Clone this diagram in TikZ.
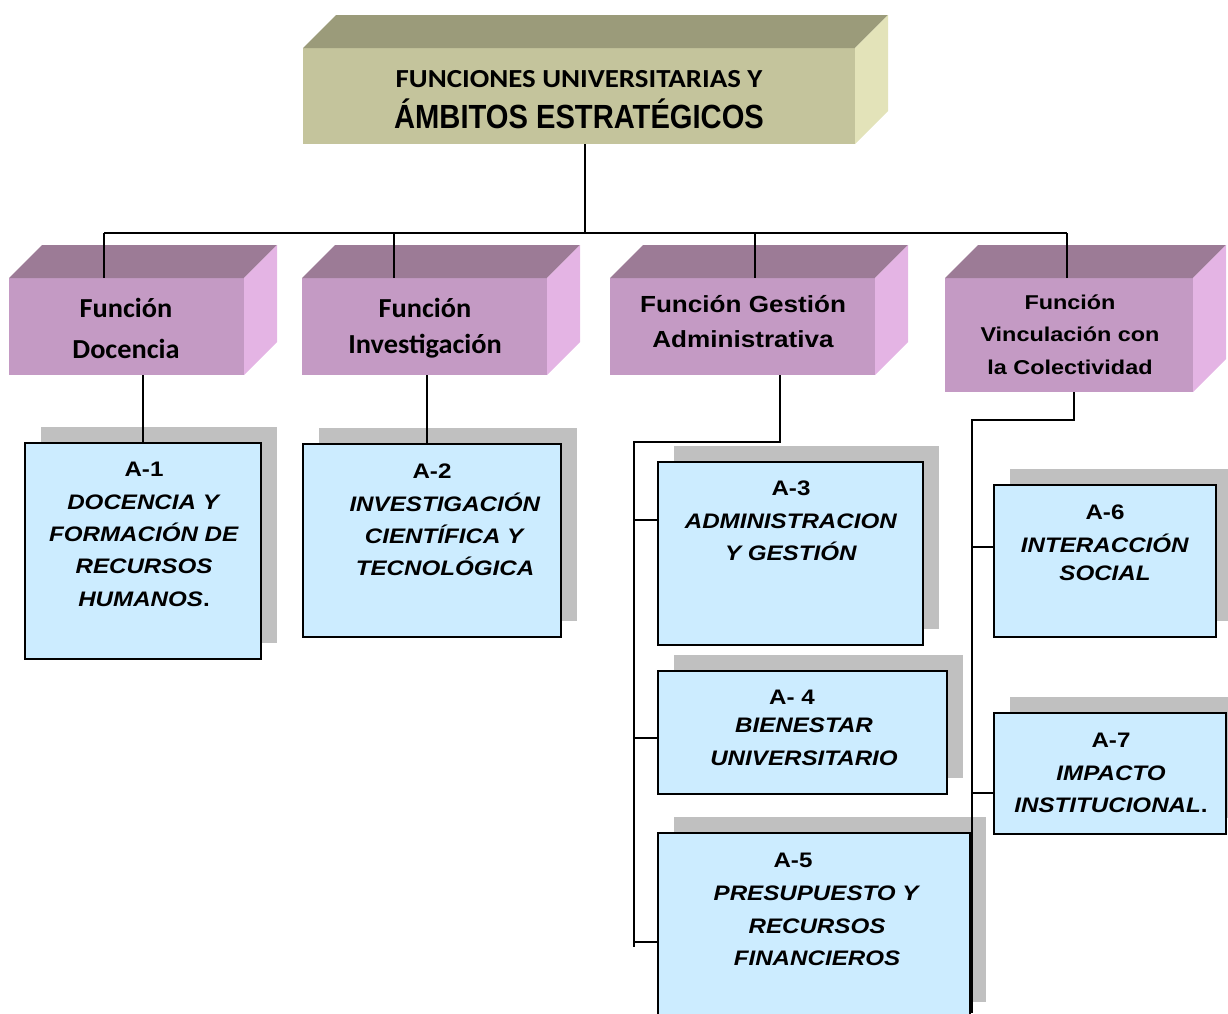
\documentclass[tikz,border=0pt]{standalone}
\usepackage{fontspec}
\setmainfont{Liberation Sans}
\newfontfamily\arialx[FakeStretch=1.15]{Liberation Sans}
\newfontfamily\arialg[FakeStretch=1.12]{Liberation Sans}
\newfontfamily\arialv[FakeStretch=1.17]{Liberation Sans}
\newfontfamily\arialn[FakeStretch=0.87]{Liberation Sans}
\newfontfamily\calib[FakeStretch=1.03]{Carlito}
\newfontfamily\calibx[FakeStretch=1.11]{Carlito}
\usetikzlibrary{shadows}

\definecolor{topfront}{RGB}{196,196,156}
\definecolor{toptop}{RGB}{155,155,122}
\definecolor{topright}{RGB}{227,227,185}
\definecolor{fnfront}{RGB}{196,154,196}
\definecolor{fntop}{RGB}{156,123,150}
\definecolor{fnright}{RGB}{228,180,228}
\definecolor{aboxc}{RGB}{204,236,255}
\definecolor{ashadow}{RGB}{192,192,192}

\newcommand\boxfaces[4]{%
  \fill[#2] (#1.north west) -- ([shift={(#4,-#4)}]#1.north west) -- ([shift={(#4,-#4)}]#1.north east) -- (#1.north east) -- cycle;
  \fill[#3] (#1.north east) -- ([shift={(#4,-#4)}]#1.north east) -- ([shift={(#4,-#4)}]#1.south east) -- (#1.south east) -- cycle;}

\begin{document}
\begin{tikzpicture}[x=1pt,y=-1pt,
  face/.style={anchor=north west, inner sep=0pt, outer sep=0pt},
  fnbox/.style={face, fill=fnfront},
  abox/.style={face, fill=aboxc, draw=black, line width=1.8pt,
    drop shadow={shadow xshift=16pt, shadow yshift=16pt, fill=ashadow, opacity=1}},
  conn/.style={draw=black, line width=1.5pt, line join=miter},
  ftext/.style={anchor=north, inner sep=0pt, align=center},
  atext/.style={anchor=north, inner sep=0pt, align=center,
    font=\arialx\bfseries\fontsize{21}{32.4}\selectfont}]
\useasboundingbox (0,0) rectangle (1228,1013);

% top box
\node[face, fill=topfront, minimum width=552pt, minimum height=96pt] (top) at (303,48) {};
\boxfaces{top}{toptop}{topright}{33}
\node[anchor=base, inner sep=0pt, font=\calibx\bfseries\fontsize{26}{30}\selectfont] (tt1) at (579,87) {FUNCIONES UNIVERSITARIAS Y};
\node[anchor=base, inner sep=0pt, font=\arialn\bfseries\fontsize{33.5}{38}\selectfont] (tt2) at (579,128) {ÁMBITOS ESTRATÉGICOS};

% function boxes
\node[fnbox, minimum width=235pt, minimum height=97pt] (f1) at (9,278) {};
\node[fnbox, minimum width=245pt, minimum height=97pt] (f2) at (302,278) {};
\node[fnbox, minimum width=265pt, minimum height=97pt] (f3) at (610,278) {};
\node[fnbox, minimum width=248pt, minimum height=114pt] (f4) at (945,278) {};
\boxfaces{f1}{fntop}{fnright}{33}
\boxfaces{f2}{fntop}{fnright}{33}
\boxfaces{f3}{fntop}{fnright}{33}
\boxfaces{f4}{fntop}{fnright}{33}

\node[ftext, font=\calib\bfseries\fontsize{27.5}{41}\selectfont] (ft1) at (126,293) {\rule{0pt}{24pt}Función\\Docencia};
\node[ftext, font=\calib\bfseries\fontsize{27.5}{36}\selectfont] (ft2) at (425,293) {\rule{0pt}{24pt}Función\\Investigación};
\node[ftext, font=\arialg\bfseries\fontsize{23.3}{35}\selectfont] (ft3) at (743,288.5) {\rule{0pt}{24pt}Función Gestión\\Administrativa};
\node[ftext, font=\arialv\bfseries\fontsize{20}{32.5}\selectfont] (ft4) at (1070,287) {\rule{0pt}{22pt}Función\\Vinculación con\\la Colectividad};

% A boxes
\node[abox, minimum width=236pt, minimum height=216pt] (a1) at (25,443) {};
\node[abox, minimum width=258pt, minimum height=193pt] (a2) at (303,444) {};
\node[abox, minimum width=265pt, minimum height=183pt] (a3) at (658,462) {};
\node[abox, minimum width=289pt, minimum height=123pt] (a4) at (658,671) {};
\node[abox, minimum width=312pt, minimum height=185pt] (a5) at (658,833) {};
\node[abox, minimum width=222pt, minimum height=152pt] (a6) at (994,485) {};
\node[abox, minimum width=232pt, minimum height=121pt] (a7) at (994,713) {};

\node[atext] (at1) at (144,456.5) {\rule{0pt}{20pt}A-1\\\textit{DOCENCIA Y}\\\textit{FORMACIÓN DE}\\\textit{RECURSOS}\\\textit{HUMANOS}.};
\node[atext] (at2) at (445,458.5) {\rule{0pt}{20pt}\hspace*{-26pt}A-2\\\textit{INVESTIGACIÓN}\\\textit{CIENTÍFICA Y}\\\textit{TECNOLÓGICA}};
\node[atext] (at3) at (791,475.5) {\rule{0pt}{20pt}A-3\\\textit{ADMINISTRACION}\\\textit{Y GESTIÓN}};
\node[atext, font=\arialx\bfseries\fontsize{21}{33}\selectfont] (at4) at (804,684.5) {\rule{0pt}{20pt}\hspace*{-24pt}A- 4\\[-5pt]\textit{BIENESTAR}\\\textit{UNIVERSITARIO}};
\node[atext, font=\arialx\bfseries\fontsize{21}{32.7}\selectfont] (at5) at (817,847.5) {\rule{0pt}{20pt}\hspace*{-48pt}A-5\\\textit{PRESUPUESTO Y}\\\textit{RECURSOS}\\\textit{FINANCIEROS}};
\node[atext, font=\arialx\bfseries\fontsize{21}{33}\selectfont] (at6) at (1105,499.5) {\rule{0pt}{20pt}A-6\\\textit{INTERACCIÓN}\\[-5pt]\textit{SOCIAL}};
\node[atext, font=\arialx\bfseries\fontsize{21}{32.5}\selectfont] (at7) at (1111,727.5) {\rule{0pt}{20pt}A-7\\\textit{IMPACTO}\\\textit{INSTITUCIONAL}.};

% connectors
\coordinate (tc) at ([xshift=6pt]top.south);
\coordinate (busL) at (104,233);
\coordinate (busR) at (1067,233);
\coordinate (d2) at (394,233);
\coordinate (d3) at (755,233);
\draw[conn] (tc) -- (tc |- busL);
\draw[conn] (busL) -- (busR);
\draw[conn] (busL) -- (busL |- f1.north);
\draw[conn] (d2) -- (d2 |- f2.north);
\draw[conn] (d3) -- (d3 |- f3.north);
\draw[conn] (busR) -- (busR |- f4.north);

\draw[conn] (a1.north |- f1.south) -- (a1.north);
\coordinate (e2) at ([xshift=2.5pt]f2.south);
\draw[conn] (e2) -- (e2 |- a2.north);

\coordinate (g1) at (780,442);
\coordinate (g2) at (634,442);
\coordinate (g3) at (634,947);
\draw[conn] (g1 |- f3.south) -- (g1) -- (g2) -- (g3);
\coordinate (k3) at ([yshift=33.5pt]a3.west);
\coordinate (k4) at ([yshift=-5.5pt]a4.west);
\coordinate (k5) at ([yshift=-16.5pt]a5.west);
\draw[conn] (k3 -| g2) -- (k3);
\draw[conn] (k4 -| g2) -- (k4);
\draw[conn] (k5 -| g2) -- (k5);

\coordinate (v1) at (1074,420);
\coordinate (v2) at (972,420);
\coordinate (v3) at (972,1013);
\draw[conn] (v1 |- f4.south) -- (v1) -- (v2) -- (v3);
\coordinate (k6) at ([yshift=14pt]a6.west);
\coordinate (k7) at ([yshift=-19.5pt]a7.west);
\draw[conn] (k6 -| v2) -- (k6);
\draw[conn] (k7 -| v2) -- (k7);
\end{tikzpicture}
\end{document}
